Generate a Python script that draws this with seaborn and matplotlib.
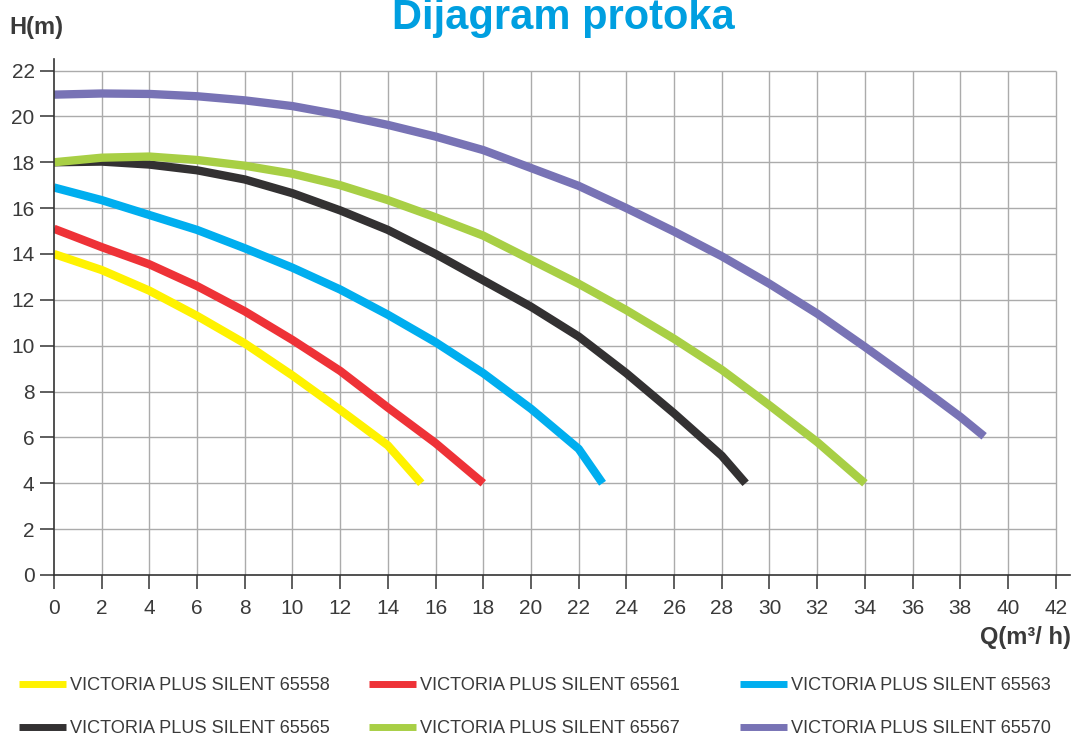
import matplotlib
matplotlib.use("Agg")
import matplotlib.pyplot as plt
from matplotlib.lines import Line2D
import seaborn as sns
import pandas as pd
import numpy as np

# ---- data ----
models = ["VICTORIA PLUS SILENT 65558", "VICTORIA PLUS SILENT 65561",
          "VICTORIA PLUS SILENT 65563", "VICTORIA PLUS SILENT 65565",
          "VICTORIA PLUS SILENT 65567", "VICTORIA PLUS SILENT 65570"]

q_65558 = [0, 2, 4, 6, 8, 10, 12, 14, 15.4]
h_65558 = [14.0, 13.3, 12.4, 11.3, 10.1, 8.7, 7.2, 5.65, 4.0]

q_65561 = [0, 2, 4, 6, 8, 10, 12, 14, 16, 18]
h_65561 = [15.1, 14.3, 13.55, 12.6, 11.5, 10.25, 8.9, 7.3, 5.75, 4.0]

q_65563 = [0, 2, 4, 6, 8, 10, 12, 14, 16, 18, 20, 22, 23]
h_65563 = [16.9, 16.35, 15.7, 15.05, 14.25, 13.4, 12.45, 11.35, 10.15, 8.8, 7.25, 5.5, 4.0]

q_65565 = [0, 2, 4, 6, 8, 10, 12, 14, 16, 18, 20, 22, 24, 26, 28, 29]
h_65565 = [18.0, 18.03, 17.9, 17.65, 17.25, 16.65, 15.9, 15.05, 14.0, 12.85, 11.7, 10.4, 8.8, 7.05, 5.2, 4.0]

q_65567 = [0, 2, 4, 6, 8, 10, 12, 14, 16, 18, 20, 22, 24, 26, 28, 30, 32, 34]
h_65567 = [18.0, 18.2, 18.25, 18.1, 17.85, 17.5, 17.0, 16.35, 15.6, 14.8, 13.75, 12.7, 11.55, 10.3, 8.95, 7.4, 5.8, 4.0]

q_65570 = [0, 2, 4, 6, 8, 10, 12, 14, 16, 18, 20, 22, 24, 26, 28, 30, 32, 34, 36, 38, 39]
h_65570 = [20.95, 21.0, 20.98, 20.88, 20.7, 20.45, 20.07, 19.63, 19.12, 18.53, 17.75, 16.97, 16.0, 14.98, 13.9, 12.7, 11.4, 9.95, 8.45, 6.9, 6.05]

x_ticks = list(range(0, 43, 2))
y_ticks = list(range(0, 23, 2))

colors = ["#FFF200", "#EE3237", "#00AEEF", "#333132", "#A8CF45", "#7873B5"]

series = [(q_65558, h_65558), (q_65561, h_65561), (q_65563, h_65563),
          (q_65565, h_65565), (q_65567, h_65567), (q_65570, h_65570)]
frames = []
for name, (q, h) in zip(models, series):
    frames.append(pd.DataFrame({"Q": q, "H": h, "model": name}))
df = pd.concat(frames, ignore_index=True)
palette = dict(zip(models, colors))

# ---- style ----
sns.set_theme(style="white")
plt.rcParams["font.family"] = ["Liberation Sans", "DejaVu Sans"]
text_col = "#3a3a3a"

fig = plt.figure(figsize=(10.73, 7.37), dpi=100)
ax = fig.add_axes([54 / 1073, (737 - 575) / 737, 1016 / 1073, (575 - 59.1) / 737])

# grid
grid_col = "#ababab"
ax.hlines(y_ticks[1:], 0, 42, color=grid_col, lw=1.0, zorder=1)
ax.vlines(x_ticks[1:], 0, 22, color=grid_col, lw=1.0, zorder=1)

sns.lineplot(data=df, x="Q", y="H", hue="model", palette=palette,
             hue_order=models, estimator=None, sort=False, legend=False,
             linewidth=6.0, solid_capstyle="butt", solid_joinstyle="round",
             ax=ax, zorder=3)

ax.set_xlim(0, 42.6)
ax.set_ylim(0, 22.5)
ax.set_xticks(x_ticks)
ax.set_yticks(y_ticks)
ax.set_xlabel("")
ax.set_ylabel("")
for s in ["top", "right"]:
    ax.spines[s].set_visible(False)
for s in ["left", "bottom"]:
    ax.spines[s].set_color("#333333")
    ax.spines[s].set_linewidth(1.2)
    ax.spines[s].set_zorder(4)
ax.tick_params(axis="both", direction="out", length=10, width=1.1,
               color="#333333", labelsize=15, labelcolor=text_col,
               bottom=True, left=True)
ax.tick_params(axis="x", pad=7)
ax.tick_params(axis="y", pad=4)
ax.grid(False)

# texts
fig.text(563.5 / 1073, 1 - 28.5 / 737, "Dijagram protoka", ha="center",
         va="baseline", fontsize=30, fontweight="bold", color="#009FE0")
fig.text(9 / 1073, 1 - 34 / 737, "H(m)", ha="left", va="baseline",
         fontsize=17, fontweight="bold", color=text_col)
fig.text(1071 / 1073, 1 - 644 / 737, "Q(m³/ h)", ha="right", va="baseline",
         fontsize=17, fontweight="bold", color=text_col)

# legends (three columns)
col_x = [19, 369, 740]
pairs = [(0, 3), (1, 4), (2, 5)]
for cx, (a, b) in zip(col_x, pairs):
    handles = [Line2D([], [], color=colors[a], lw=5, solid_capstyle="butt"),
               Line2D([], [], color=colors[b], lw=5, solid_capstyle="butt")]
    fig.legend(handles, [models[a], models[b]], loc="upper left",
               bbox_to_anchor=(cx / 1073, 1 - 677.5 / 737),
               frameon=False, fontsize=13.1, handlelength=2.6,
               handletextpad=0.2, labelspacing=1.42, borderpad=0,
               borderaxespad=0, labelcolor=text_col)

fig.savefig("out.png", dpi=100)
